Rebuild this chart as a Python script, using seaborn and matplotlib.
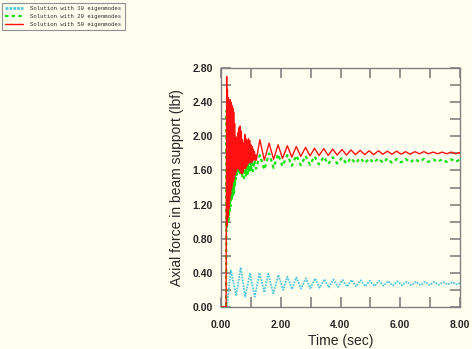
import matplotlib
matplotlib.use("Agg")
import matplotlib.pyplot as plt
from matplotlib.lines import Line2D
from matplotlib.ticker import MultipleLocator, FormatStrFormatter
import seaborn as sns
import pandas as pd

# ---- data: axial force time histories (time in sec, force in lbf) ----
time_10 = [0.00, 0.17, 0.20, 0.33, 0.51, 0.66, 0.81, 0.97, 1.13, 1.29, 1.45, 1.58,
           1.75, 1.92, 2.08, 2.22, 2.38, 2.52, 2.68, 2.84, 2.99, 3.15, 3.30, 3.46,
           3.61, 3.76, 3.92, 4.07, 4.22, 4.37, 4.52, 4.67, 4.83, 4.98, 5.13, 5.29,
           5.44, 5.60, 5.75, 5.90, 6.06, 6.22, 6.37, 6.53, 6.68, 6.83, 6.98, 7.13,
           7.29, 7.44, 7.59, 7.74, 7.90, 8.00]
force_10 = [0.00, 0.00, 0.02, 0.43, 0.13, 0.465, 0.12, 0.39, 0.12, 0.40, 0.17, 0.39,
            0.16, 0.375, 0.20, 0.355, 0.21, 0.348, 0.215, 0.336, 0.22, 0.335, 0.225, 0.325,
            0.23, 0.322, 0.235, 0.316, 0.238, 0.318, 0.24, 0.314, 0.243, 0.308, 0.245, 0.306,
            0.248, 0.304, 0.25, 0.301, 0.252, 0.298, 0.254, 0.297, 0.256, 0.296, 0.258, 0.293,
            0.26, 0.292, 0.262, 0.289, 0.264, 0.28]

time_20 = [0.00, 0.17, 0.19, 0.20, 0.215, 0.23, 0.245, 0.26, 0.275, 0.29, 0.305, 0.32,
           0.335, 0.35, 0.365, 0.38, 0.395, 0.41, 0.425, 0.44, 0.455, 0.47, 0.485, 0.50,
           0.515, 0.53, 0.56, 0.59, 0.62, 0.65, 0.68, 0.71, 0.74, 0.77, 0.80, 0.83,
           0.86, 0.89, 0.92, 0.95, 0.98, 1.01, 1.04, 1.07, 1.12, 1.17,
           1.30, 1.45, 1.61, 1.76, 1.91, 2.06, 2.22, 2.37, 2.52, 2.67, 2.83, 2.98,
           3.13, 3.28, 3.44, 3.59, 3.74, 3.89, 4.05, 4.20, 4.35, 4.50, 4.66, 4.81,
           4.96, 5.11, 5.27, 5.42, 5.57, 5.72, 5.88, 6.03, 6.18, 6.33, 6.49, 6.64,
           6.79, 6.94, 7.10, 7.25, 7.40, 7.55, 7.71, 7.86, 8.00]
force_20 = [0.00, 0.00, 2.30, 0.92, 2.20, 0.98, 2.10, 1.02, 2.10, 1.10, 2.10, 1.18,
            2.05, 1.24, 2.00, 1.28, 1.95, 1.30, 1.90, 1.34, 1.85, 1.42, 1.80, 1.50,
            1.80, 1.55, 1.85, 1.56, 1.90, 1.54, 1.85, 1.52, 1.80, 1.51, 1.82, 1.53,
            1.82, 1.56, 1.80, 1.58, 1.78, 1.59, 1.76, 1.59, 1.72, 1.62,
            1.78, 1.61, 1.80, 1.63, 1.79, 1.65, 1.78, 1.655, 1.775, 1.66, 1.77, 1.665,
            1.765, 1.67, 1.76, 1.675, 1.755, 1.68, 1.75, 1.68, 1.745, 1.685, 1.745, 1.685,
            1.74, 1.69, 1.74, 1.69, 1.74, 1.69, 1.735, 1.695, 1.735, 1.695, 1.735, 1.70,
            1.735, 1.70, 1.73, 1.70, 1.73, 1.70, 1.73, 1.70, 1.73]

time_50 = [0.00, 0.17, 0.19, 0.20, 0.215, 0.23, 0.245, 0.26, 0.275, 0.29, 0.305, 0.32,
           0.335, 0.35, 0.365, 0.38, 0.395, 0.41, 0.425, 0.44, 0.455, 0.47, 0.485, 0.50,
           0.52, 0.54, 0.56, 0.58, 0.60, 0.62, 0.64, 0.66, 0.68, 0.70, 0.72, 0.74,
           0.76, 0.78, 0.80, 0.82, 0.84, 0.86, 0.88, 0.90, 0.92, 0.94, 0.96, 0.98,
           1.00, 1.02, 1.04, 1.06, 1.08, 1.10, 1.12, 1.14, 1.16, 1.18,
           1.30, 1.45, 1.61, 1.76, 1.91, 2.06, 2.22, 2.37, 2.52, 2.67, 2.83, 2.98,
           3.13, 3.28, 3.44, 3.59, 3.74, 3.89, 4.05, 4.20, 4.35, 4.50, 4.66, 4.81,
           4.96, 5.11, 5.27, 5.42, 5.57, 5.72, 5.88, 6.03, 6.18, 6.33, 6.49, 6.64,
           6.79, 6.94, 7.10, 7.25, 7.40, 7.55, 7.71, 7.86, 8.00]
force_50 = [0.00, 0.00, 2.70, 0.95, 2.55, 1.05, 2.45, 1.15, 2.42, 1.25, 2.43, 1.32,
            2.40, 1.38, 2.36, 1.42, 2.33, 1.47, 2.28, 1.50, 2.15, 1.55, 2.00, 1.58,
            1.98, 1.62, 2.04, 1.62, 2.10, 1.60, 2.12, 1.57, 2.06, 1.56, 1.96, 1.58,
            1.92, 1.62, 2.02, 1.62, 1.97, 1.65, 1.95, 1.68, 1.97, 1.70, 1.95, 1.69,
            1.90, 1.69, 1.88, 1.71, 1.85, 1.73, 1.82, 1.72, 1.78, 1.72,
            1.96, 1.72, 1.92, 1.73, 1.90, 1.74, 1.89, 1.755, 1.88, 1.765, 1.87, 1.77,
            1.86, 1.775, 1.855, 1.775, 1.85, 1.78, 1.845, 1.78, 1.84, 1.785, 1.835, 1.785,
            1.83, 1.785, 1.83, 1.79, 1.825, 1.79, 1.825, 1.79, 1.82, 1.79, 1.82, 1.795,
            1.82, 1.795, 1.815, 1.795, 1.815, 1.795, 1.815, 1.795, 1.81]

labels = ["Solution with 10 eigenmodes",
          "Solution with 20 eigenmodes",
          "Solution with 50 eigenmodes"]
x_ticks = [0, 2, 4, 6, 8]
y_ticks = [0.0, 0.4, 0.8, 1.2, 1.6, 2.0, 2.4, 2.8]

# ---- styling ----
bg = "#FFFFF0"
sns.set_style("ticks")
plt.rcParams["font.family"] = ["Liberation Sans", "DejaVu Sans"]

fig = plt.figure(figsize=(4.72, 3.49), dpi=100, facecolor=bg)
ax = fig.add_axes([221 / 472, 1 - 307 / 349, 239 / 472, 239 / 349])
ax.set_facecolor(bg)

c10, c20, c50 = "#55C8D8", "#10E010", "#FF1010"

df10 = pd.DataFrame({"t": time_10, "f": force_10})
df20 = pd.DataFrame({"t": time_20, "f": force_20})
df50 = pd.DataFrame({"t": time_50, "f": force_50})

sns.lineplot(data=df10, x="t", y="f", ax=ax, color=c10, lw=1.3,
             linestyle=(0, (1, 0.6)), sort=False, estimator=None)
sns.lineplot(data=df20, x="t", y="f", ax=ax, color=c20, lw=1.6,
             linestyle=(0, (1.5, 1.5)), sort=False, estimator=None)
sns.lineplot(data=df50, x="t", y="f", ax=ax, color=c50, lw=1.0,
             sort=False, estimator=None, zorder=5)

ax.set_xlim(0, 8)
ax.set_ylim(0, 2.8)
ax.set_xticks(x_ticks)
ax.set_yticks(y_ticks)
ax.xaxis.set_minor_locator(MultipleLocator(1))
ax.yaxis.set_minor_locator(MultipleLocator(0.2))
ax.xaxis.set_major_formatter(FormatStrFormatter("%.2f"))
ax.yaxis.set_major_formatter(FormatStrFormatter("%.2f"))

tick_color = "#808080"
ax.tick_params(which="both", direction="in", top=True, right=True,
               length=7, width=1.2, color=tick_color)
ax.tick_params(axis="x", which="major", pad=9)
ax.tick_params(axis="y", which="major", pad=6)
for lbl in ax.get_xticklabels() + ax.get_yticklabels():
    lbl.set_fontsize(7.5)
    lbl.set_fontweight("bold")
for s in ax.spines.values():
    s.set_color(tick_color)
    s.set_linewidth(1.0)

ax.set_xlabel("Time (sec)", fontsize=10, labelpad=3)
ax.set_ylabel("Axial force in beam support (lbf)", fontsize=10, labelpad=6)

handles = [
    Line2D([], [], color=c10, lw=2.0, linestyle=(0, (1, 0.4))),
    Line2D([], [], color=c20, lw=1.6, linestyle=(0, (1.5, 1.5))),
    Line2D([], [], color=c50, lw=1.0),
]
leg = fig.legend(handles, labels, loc="upper left",
                 bbox_to_anchor=(2 / 472, 1 - 3 / 349),
                 prop={"family": "Liberation Mono", "size": 4.1},
                 frameon=True, fancybox=False, facecolor=bg, framealpha=1,
                 edgecolor="#909090", borderpad=0.6, labelspacing=0.45,
                 handlelength=3.0, handletextpad=1.4, borderaxespad=0)
leg.get_frame().set_linewidth(0.8)

fig.savefig("out.png", dpi=100, facecolor=bg)
